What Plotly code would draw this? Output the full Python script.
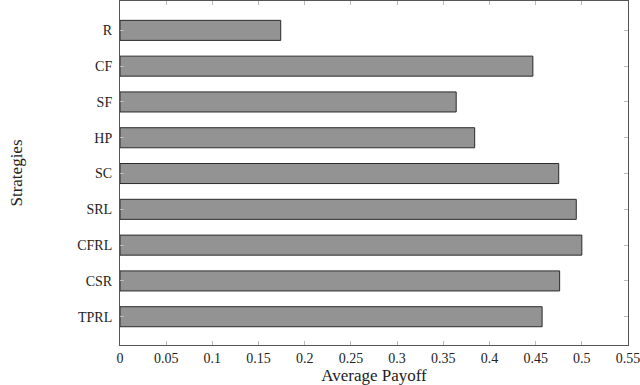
import plotly.graph_objects as go

# strategies, top to bottom
strategies = ['R', 'CF', 'SF', 'HP', 'SC', 'SRL', 'CFRL', 'CSR', 'TPRL']
payoff = [0.174, 0.447, 0.364, 0.384, 0.475, 0.494, 0.500, 0.476, 0.457]
x_ticks = [0, 0.05, 0.1, 0.15, 0.2, 0.25, 0.3, 0.35, 0.4, 0.45, 0.5, 0.55]
x_labels = ['0', '0.05', '0.1', '0.15', '0.2', '0.25', '0.3', '0.35', '0.4', '0.45', '0.5', '0.55']

pos = list(range(len(strategies)))

fig = go.Figure(go.Bar(
    x=payoff, y=pos, orientation='h', width=0.56,
    marker=dict(color='#939393', line=dict(color='#2b2b2b', width=1)),
))

font = dict(family='Liberation Serif', size=14, color='#222')
axis_style = dict(showline=True, linecolor='#555', linewidth=1, mirror='ticks',
                  ticks='inside', ticklen=4, tickcolor='#bbb', showgrid=False,
                  zeroline=False, automargin=False)

fig.update_layout(
    width=640, height=385,
    margin=dict(l=120, r=12, t=1, b=40),
    plot_bgcolor='white', paper_bgcolor='white',
    font=font, showlegend=False,
    xaxis=dict(range=[0, 0.55], tickvals=x_ticks, ticktext=x_labels,
               ticklabeloverflow='allow',
               title=dict(text='Average Payoff', standoff=8), **axis_style),
    yaxis=dict(range=[8.79, -0.82], tickvals=pos, ticktext=strategies,
               ticklabelstandoff=4,
               title=dict(text='Strategies', standoff=50), **axis_style),
)

# page has a default body margin, drop it so the figure sits at 0,0
fig.write_html("out.html", config={'displayModeBar': False},
               post_script="document.body.style.margin='0';")
